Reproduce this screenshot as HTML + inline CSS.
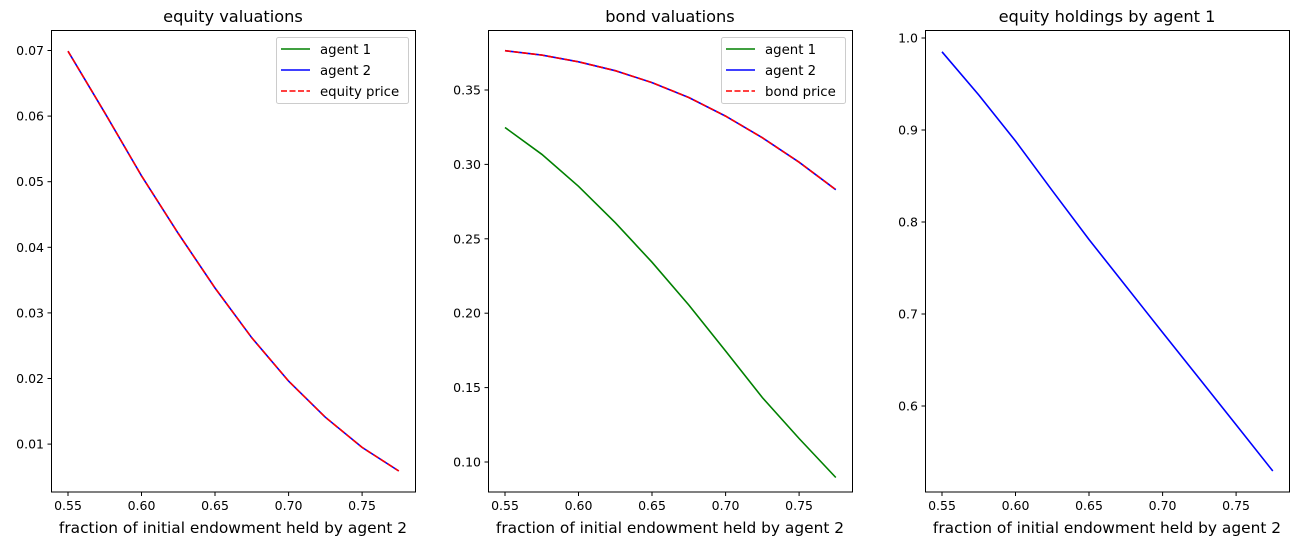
<!DOCTYPE html>
<html><head><style>
body{margin:0;background:#fff;}
svg{display:block;font-family:"DejaVu Sans","Liberation Sans",sans-serif;}
</style></head><body>
<svg width="1300" height="546" viewBox="0 0 1300 546">
<g font-size="13.3" fill="#000">
<!-- Panel 1 -->
<text x="233" y="22" text-anchor="middle" font-size="16.2">equity valuations</text>
<rect x="51.5" y="30.5" width="364" height="461.5" fill="none" stroke="#000" stroke-width="1"/>
<g stroke="#000"><line x1="68" y1="492" x2="68" y2="496"/><line x1="141.5" y1="492" x2="141.5" y2="496"/><line x1="215" y1="492" x2="215" y2="496"/><line x1="288.6" y1="492" x2="288.6" y2="496"/><line x1="362.1" y1="492" x2="362.1" y2="496"/></g>
<g text-anchor="middle" font-size="12.5"><text x="68" y="510">0.55</text><text x="141.5" y="510">0.60</text><text x="215" y="510">0.65</text><text x="288.6" y="510">0.70</text><text x="362.1" y="510">0.75</text></g>
<g stroke="#000"><line x1="47.5" y1="50.5" x2="51.5" y2="50.5"/><line x1="47.5" y1="116.1" x2="51.5" y2="116.1"/><line x1="47.5" y1="181.7" x2="51.5" y2="181.7"/><line x1="47.5" y1="247.3" x2="51.5" y2="247.3"/><line x1="47.5" y1="312.9" x2="51.5" y2="312.9"/><line x1="47.5" y1="378.5" x2="51.5" y2="378.5"/><line x1="47.5" y1="444.1" x2="51.5" y2="444.1"/></g>
<g text-anchor="end" font-size="12.5"><text x="44" y="55">0.07</text><text x="44" y="120.6">0.06</text><text x="44" y="186.2">0.05</text><text x="44" y="251.8">0.04</text><text x="44" y="317.4">0.03</text><text x="44" y="383">0.02</text><text x="44" y="448.6">0.01</text></g>
<text x="233" y="533" text-anchor="middle" font-size="15.4">fraction of initial endowment held by agent 2</text>
<polyline fill="none" stroke="#0000ff" stroke-width="1.6" points="68,51.2 104.8,112.8 141.5,175.8 178.3,233.5 215,288 251.8,337.8 288.6,381.1 325.3,417.2 362.1,447.4 398.8,471"/>
<polyline fill="none" stroke="#ff0000" stroke-width="1.6" stroke-dasharray="6,2.5" points="68,51.2 104.8,112.8 141.5,175.8 178.3,233.5 215,288 251.8,337.8 288.6,381.1 325.3,417.2 362.1,447.4 398.8,471"/>
<rect x="276.5" y="37.5" width="132" height="66" fill="#fff" stroke="#ccc" rx="2"/>
<line x1="281" y1="49" x2="310" y2="49" stroke="green" stroke-width="1.6"/><text x="320" y="54">agent 1</text>
<line x1="281" y1="70" x2="310" y2="70" stroke="blue" stroke-width="1.6"/><text x="320" y="75">agent 2</text>
<line x1="281" y1="91" x2="310" y2="91" stroke="red" stroke-width="1.6" stroke-dasharray="6,2.5"/><text x="320" y="96">equity price</text>

<!-- Panel 2 -->
<text x="670" y="22" text-anchor="middle" font-size="16.2">bond valuations</text>
<rect x="488.5" y="30.5" width="364" height="461.5" fill="none" stroke="#000" stroke-width="1"/>
<g stroke="#000"><line x1="505" y1="492" x2="505" y2="496"/><line x1="578.5" y1="492" x2="578.5" y2="496"/><line x1="652" y1="492" x2="652" y2="496"/><line x1="725.6" y1="492" x2="725.6" y2="496"/><line x1="799.1" y1="492" x2="799.1" y2="496"/></g>
<g text-anchor="middle" font-size="12.5"><text x="505" y="510">0.55</text><text x="578.5" y="510">0.60</text><text x="652" y="510">0.65</text><text x="725.6" y="510">0.70</text><text x="799.1" y="510">0.75</text></g>
<g stroke="#000"><line x1="484.5" y1="90" x2="488.5" y2="90"/><line x1="484.5" y1="164.4" x2="488.5" y2="164.4"/><line x1="484.5" y1="238.8" x2="488.5" y2="238.8"/><line x1="484.5" y1="313.2" x2="488.5" y2="313.2"/><line x1="484.5" y1="387.6" x2="488.5" y2="387.6"/><line x1="484.5" y1="462" x2="488.5" y2="462"/></g>
<g text-anchor="end" font-size="12.5"><text x="481" y="94.5">0.35</text><text x="481" y="168.9">0.30</text><text x="481" y="243.3">0.25</text><text x="481" y="317.7">0.20</text><text x="481" y="392.1">0.15</text><text x="481" y="466.5">0.10</text></g>
<text x="670" y="533" text-anchor="middle" font-size="15.4">fraction of initial endowment held by agent 2</text>
<polyline fill="none" stroke="green" stroke-width="1.6" points="505,127.5 541.8,154.3 578.5,186.3 615.3,222.7 652,262.2 688.8,305 725.6,351 762.3,397.5 799.1,438.5 835.8,477.5"/>
<polyline fill="none" stroke="blue" stroke-width="1.6" points="505,50.7 541.8,55.1 578.5,61.8 615.3,70.7 652,82.6 688.8,97.5 725.6,116.1 762.3,137.7 799.1,162.2 835.8,189.7"/>
<polyline fill="none" stroke="red" stroke-width="1.6" stroke-dasharray="6,2.5" points="505,50.7 541.8,55.1 578.5,61.8 615.3,70.7 652,82.6 688.8,97.5 725.6,116.1 762.3,137.7 799.1,162.2 835.8,189.7"/>
<rect x="721.5" y="37.5" width="124" height="66" fill="#fff" stroke="#ccc" rx="2"/>
<line x1="726" y1="49" x2="755" y2="49" stroke="green" stroke-width="1.6"/><text x="765" y="54">agent 1</text>
<line x1="726" y1="70" x2="755" y2="70" stroke="blue" stroke-width="1.6"/><text x="765" y="75">agent 2</text>
<line x1="726" y1="91" x2="755" y2="91" stroke="red" stroke-width="1.6" stroke-dasharray="6,2.5"/><text x="765" y="96">bond price</text>

<!-- Panel 3 -->
<text x="1107" y="22" text-anchor="middle" font-size="16.2">equity holdings by agent 1</text>
<rect x="925.5" y="30.5" width="364" height="461.5" fill="none" stroke="#000" stroke-width="1"/>
<g stroke="#000"><line x1="942" y1="492" x2="942" y2="496"/><line x1="1015.5" y1="492" x2="1015.5" y2="496"/><line x1="1089" y1="492" x2="1089" y2="496"/><line x1="1162.6" y1="492" x2="1162.6" y2="496"/><line x1="1236.1" y1="492" x2="1236.1" y2="496"/></g>
<g text-anchor="middle" font-size="12.5"><text x="942" y="510">0.55</text><text x="1015.5" y="510">0.60</text><text x="1089" y="510">0.65</text><text x="1162.6" y="510">0.70</text><text x="1236.1" y="510">0.75</text></g>
<g stroke="#000"><line x1="921.5" y1="38" x2="925.5" y2="38"/><line x1="921.5" y1="130" x2="925.5" y2="130"/><line x1="921.5" y1="222" x2="925.5" y2="222"/><line x1="921.5" y1="314" x2="925.5" y2="314"/><line x1="921.5" y1="406" x2="925.5" y2="406"/></g>
<g text-anchor="end" font-size="12.5"><text x="918" y="42.5">1.0</text><text x="918" y="134.5">0.9</text><text x="918" y="226.5">0.8</text><text x="918" y="318.5">0.7</text><text x="918" y="410.5">0.6</text></g>
<text x="1107" y="533" text-anchor="middle" font-size="15.4">fraction of initial endowment held by agent 2</text>
<polyline fill="none" stroke="blue" stroke-width="1.6" points="942,51.8 978.8,95 1015.5,141 1052.3,190.7 1089,239.5 1125.8,286 1162.6,332.5 1199.3,378.5 1236.1,424.8 1272.8,471"/>
</g>
</svg>
</body></html>
